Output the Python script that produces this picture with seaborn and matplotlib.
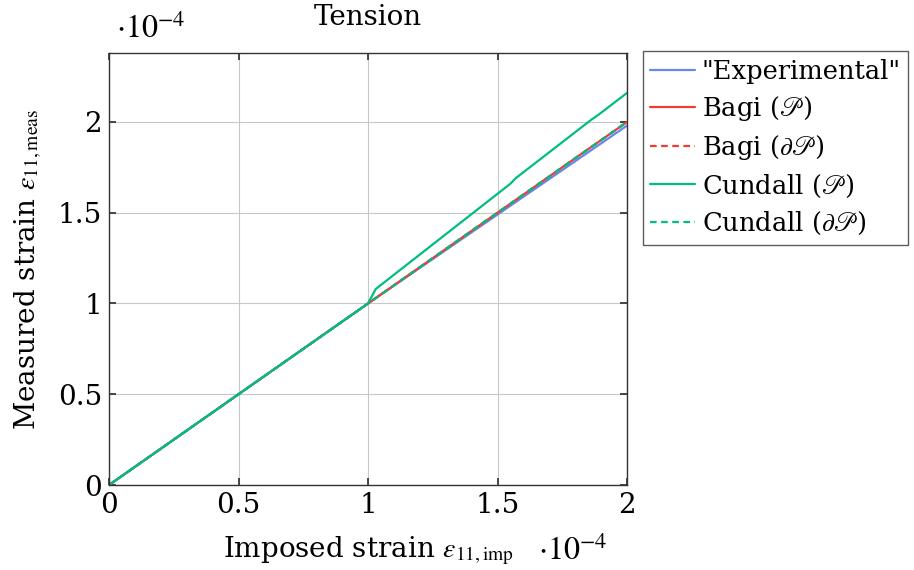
import matplotlib
matplotlib.use("Agg")
import matplotlib.pyplot as plt
import seaborn as sns
import pandas as pd

# values in units of 1e-4
exp_x = [0.0, 1.0, 2.0]
exp_y = [0.0, 1.0, 1.98]
bagi_p_x = [0.0, 1.0, 2.0]
bagi_p_y = [0.0, 1.0, 2.0]
bagi_dp_x = [0.0, 1.0, 2.0]
bagi_dp_y = [0.0, 1.0, 2.0]
cund_p_x = [0.0, 1.0, 1.03, 1.55, 1.57, 1.86, 1.89, 2.0]
cund_p_y = [0.0, 1.0, 1.08, 1.66, 1.69, 2.01, 2.04, 2.16]
cund_dp_x = [0.0, 1.0, 2.0]
cund_dp_y = [0.0, 1.0, 2.0]

ticks = [0, 0.5, 1, 1.5, 2]
tick_labels = ["0", "0.5", "1", "1.5", "2"]

FS = 20

sns.set_theme(style="whitegrid")
plt.rcParams['font.family'] = ['DejaVu Serif']
plt.rcParams['mathtext.fontset'] = 'stix'
plt.rcParams['text.color'] = 'black'
plt.rcParams['axes.labelcolor'] = 'black'
plt.rcParams['xtick.labelcolor'] = 'black'
plt.rcParams['ytick.labelcolor'] = 'black'

fig = plt.figure(figsize=(9.14, 5.70), dpi=100)
ax = fig.add_axes([109 / 914, 1 - 485 / 570, (627 - 109) / 914, (485 - 53) / 570])

series = [
    (exp_x, exp_y, '"Experimental"', '#6688ee', '-'),
    (bagi_p_x, bagi_p_y, r'Bagi ($\mathscr{P}$)', '#f03c32', '-'),
    (bagi_dp_x, bagi_dp_y, r'Bagi ($\partial\mathscr{P}$)', '#f03c32', (0, (3, 2))),
    (cund_p_x, cund_p_y, r'Cundall ($\mathscr{P}$)', '#00be82', '-'),
    (cund_dp_x, cund_dp_y, r'Cundall ($\partial\mathscr{P}$)', '#00be82', (0, (3, 2))),
]
for xs, ys, name, color, ls in series:
    df = pd.DataFrame({'x': xs, 'y': ys})
    sns.lineplot(data=df, x='x', y='y', ax=ax, color=color, linestyle=ls,
                 linewidth=1.6, label=name, estimator=None, sort=False)

ax.set_xlim(0, 2)
ax.set_ylim(0, 2.38)
ax.set_xticks(ticks)
ax.set_xticklabels(tick_labels)
ax.set_yticks(ticks)
ax.set_yticklabels(tick_labels)
ax.tick_params(labelsize=FS, direction='in', length=5, color='#333333',
               labelcolor='black', top=True, right=True, bottom=True, left=True, pad=5)
ax.grid(True, color='#c8c8c8', linewidth=0.8)
ax.set_facecolor('white')
for sp in ax.spines.values():
    sp.set_edgecolor('#333333')
    sp.set_linewidth(1.0)

ax.set_xlabel(r'Imposed strain $\varepsilon_{11,\mathrm{imp}}$', fontsize=FS, labelpad=11)
ax.set_ylabel(r'Measured strain $\varepsilon_{11,\mathrm{meas}}$', fontsize=FS, labelpad=10)
ax.set_title('Tension', fontsize=FS, pad=20, color='black')

fig.text(116 / 914, 1 - 30 / 570, r'$\cdot 10^{-4}$', fontsize=23, va='center', ha='left')
fig.text(538 / 914, 1 - 552 / 570, r'$\cdot 10^{-4}$', fontsize=23, va='center', ha='left')

leg = ax.legend(loc='upper left', bbox_to_anchor=(1.03, 1.005), fontsize=18.5,
                frameon=True, fancybox=False, borderpad=0.3, labelspacing=0.4,
                handlelength=1.75, handletextpad=0.25, borderaxespad=0)
leg.get_frame().set_edgecolor('#333333')
leg.get_frame().set_linewidth(1.0)
for t in leg.get_texts():
    t.set_color('black')

fig.savefig('out.png', dpi=100, facecolor='white')
